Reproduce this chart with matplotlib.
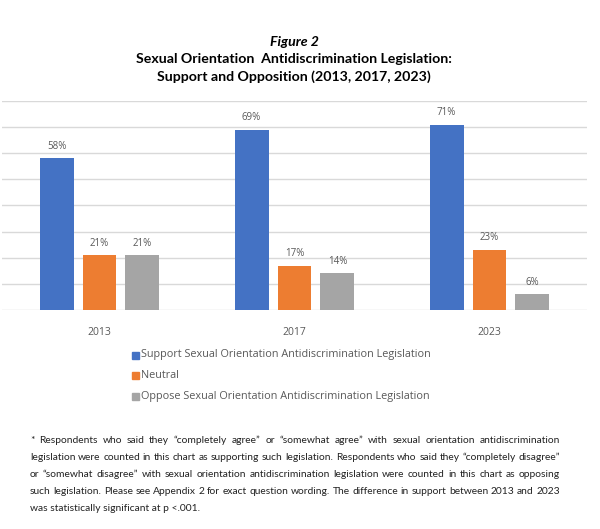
import matplotlib
matplotlib.use("Agg")
import matplotlib.pyplot as plt
import numpy as np

years = ["2013", "2017", "2023"]
support = [58, 69, 71]
neutral = [21, 17, 23]
oppose = [21, 14, 6]
series_names = ["Support Sexual Orientation Antidiscrimination Legislation",
                "Neutral",
                "Oppose Sexual Orientation Antidiscrimination Legislation"]
colors = ["#4472C4", "#ED7D31", "#A5A5A5"]
title_lines = ["Figure 2",
               "Sexual Orientation  Antidiscrimination Legislation:",
               "Support and Opposition (2013, 2017, 2023)"]
footnote_lines = [
    "* Respondents who said they \u201ccompletely agree\u201d or \u201csomewhat agree\u201d with sexual orientation antidiscrimination",
    "legislation were counted in this chart as supporting such legislation. Respondents who said they \u201ccompletely disagree\u201d",
    "or \u201csomewhat disagree\u201d with sexual orientation antidiscrimination legislation were counted in this chart as opposing",
    "such legislation. Please see Appendix 2 for exact question wording. The difference in support between 2013 and 2023",
    "was statistically significant at p <.001.",
]

plt.rcParams['font.family'] = ['Open Sans', 'DejaVu Sans']
W, H = 600, 529
fig = plt.figure(figsize=(6, 5.29), dpi=100)

ax = fig.add_axes([2 / W, 1 - 310 / H, 585 / W, 209 / H])
x = np.arange(len(years))
bw = 0.174
step = 0.22
txtc = "#595959"
for i, (vals, c) in enumerate(zip([support, neutral, oppose], colors)):
    pos = x + (i - 1) * step
    ax.bar(pos, vals, width=bw, color=c, zorder=3, label=series_names[i])
    for p, v in zip(pos, vals):
        ax.text(p, v + 2.5, f"{v}%", ha="center", va="bottom", fontsize=7, color=txtc)

ax.set_xlim(-0.5, 2.5)
ax.set_ylim(0, 80)
ax.set_yticks(np.arange(0, 81, 10))
ax.grid(axis="y", color="#D9D9D9", linewidth=1, zorder=0)
ax.tick_params(axis="y", left=False, labelleft=False)
ax.tick_params(axis="x", bottom=False, labelsize=7.5, labelcolor=txtc, pad=9)
ax.set_xticks(x)
ax.set_xticklabels(years)
for s in ax.spines.values():
    s.set_visible(False)

# Legend
leg_y = [355, 375, 396]
for name, c, yy in zip(series_names, colors, leg_y):
    fig.patches.append(plt.Rectangle((132 / W, 1 - (yy + 4) / H), 7 / W, 7 / H,
                                     transform=fig.transFigure, color=c, figure=fig))
    fig.text(141 / W, 1 - yy / H, name, fontsize=7.8, color=txtc, va="center", ha="left")

# Title
tfam = ["Lato", "DejaVu Sans"]
fig.text(0.49, 1 - 42 / H, title_lines[0], ha="center", va="center", fontsize=10.2,
         fontweight="bold", style="italic", family=tfam)
fig.text(0.49, 1 - 59 / H, title_lines[1], ha="center", va="center", fontsize=10.2,
         fontweight="bold", family=tfam)
fig.text(0.49, 1 - 77 / H, title_lines[2], ha="center", va="center", fontsize=10.2,
         fontweight="bold", family=tfam)

# Footnote (justified)
fig.canvas.draw()
renderer = fig.canvas.get_renderer()
left_px, right_px = 30, 560
fs = 7.4
for k, line in enumerate(footnote_lines):
    ypx = 443 + k * 17
    words = line.split(" ")
    if k == len(footnote_lines) - 1:
        fig.text(left_px / W, 1 - ypx / H, line, fontsize=fs, color="#222222",
                 ha="left", va="baseline", family=tfam)
        continue
    tmp = [fig.text(0, 0, w, fontsize=fs, family=tfam) for w in words]
    widths = [t.get_window_extent(renderer).width for t in tmp]
    for t in tmp:
        t.remove()
    gap = max(2.5, (right_px - left_px - sum(widths)) / (len(words) - 1))
    xp = left_px
    for w, wd in zip(words, widths):
        fig.text(xp / W, 1 - ypx / H, w, fontsize=fs, color="#222222",
                 ha="left", va="baseline", family=tfam)
        xp += wd + gap

fig.savefig("out.png", dpi=100)
